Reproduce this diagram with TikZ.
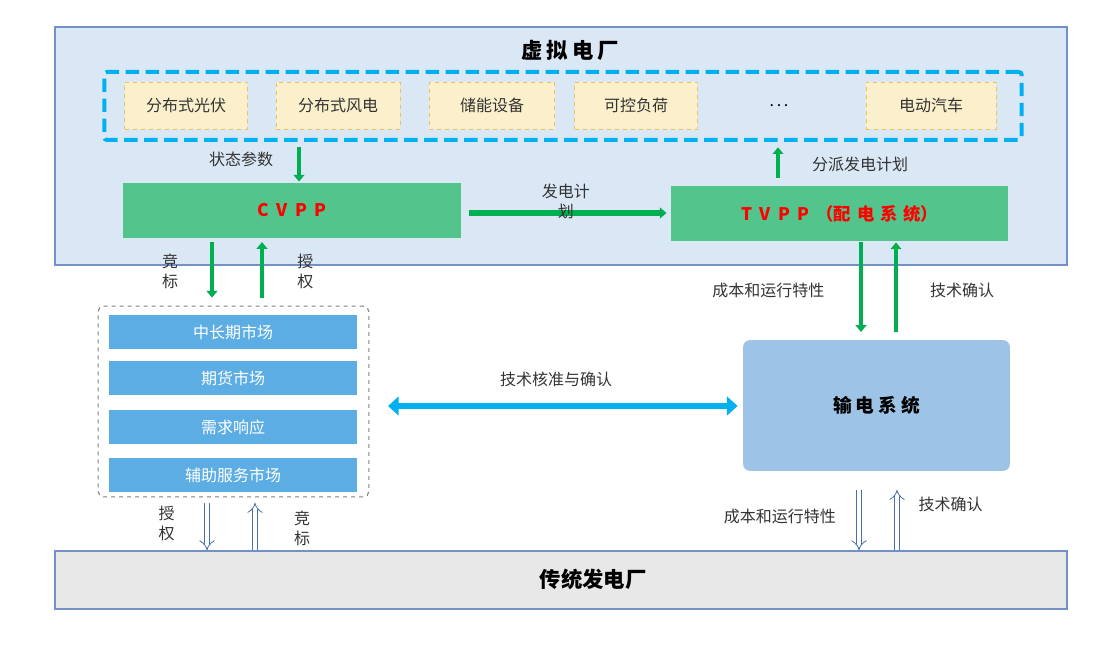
\documentclass[tikz,border=0pt]{standalone}
\usepackage{fontspec}
\setmainfont{Noto Sans CJK SC}
\usepackage{xcolor}
\usetikzlibrary{arrows.meta, positioning}

\definecolor{vppfill}{HTML}{DAE7F5}
\definecolor{frameblue}{HTML}{7391C6}
\definecolor{cyanline}{HTML}{00B0F0}
\definecolor{derfill}{HTML}{FCF0CC}
\definecolor{derline}{HTML}{F2C14E}
\definecolor{vppgreen}{HTML}{52C48C}
\definecolor{arrowgreen}{HTML}{00B050}
\definecolor{barblue}{HTML}{5DADE5}
\definecolor{transblue}{HTML}{9DC3E6}
\definecolor{tppfill}{HTML}{E8E8E8}
\definecolor{hollowline}{HTML}{4A6FA5}
\definecolor{labelgray}{HTML}{333333}

% letter spacing inside the VPP boxes
\newcommand{\lgap}{\hspace{5.5pt}}
\newcommand{\cgap}{\hspace{4.3pt}}

\tikzset{
  lbl/.style={font=\fontsize{12}{15}\selectfont, text=labelgray, inner sep=1pt, align=center},
  derbox/.style={draw=derline, dashed, fill=derfill, minimum width=92pt, minimum height=35pt,
    font=\fontsize{12}{14}\selectfont, text=labelgray},
  vppbox/.style={fill=vppgreen, minimum width=253pt, minimum height=41pt,
    font=\fontsize{13}{15}\selectfont\bfseries, text=red},
  mktbar/.style={fill=barblue, minimum width=186pt, minimum height=25.5pt,
    font=\fontsize{12}{14}\selectfont, text=white},
  garrow/.style={draw=arrowgreen, line width=3pt, -{Triangle[length=5pt,width=8pt]}},
  hollow/.style={draw=hollowline, line width=0.6pt, double=white, double distance=3.5pt, -Implies},
}

\begin{document}
\begin{tikzpicture}[x=0.75pt, y=-0.75pt]
  \useasboundingbox (0,0) rectangle (1095,645);

  % virtual power plant frame
  \node[draw=frameblue, fill=vppfill, line width=0.8pt, minimum width=759pt, minimum height=178.5pt] (vpp) at (561,146) {};
  \node[font=\fontsize{16}{18}\selectfont\bfseries] (vpptitle) at (570,50) {虚\hspace{3pt}拟\hspace{3pt}电\hspace{3pt}厂};

  % distributed resources
  \node[draw=cyanline, line width=3pt, dash pattern=on 10pt off 5pt, rounded corners=2pt,
    minimum width=688pt, minimum height=51pt] (der) at (563,106) {};
  \node[derbox] (pv) at (186,105.5) {分布式光伏};
  \node[derbox, minimum width=93pt] (wind) at (338,105.5) {分布式风电};
  \node[derbox, minimum width=94pt] (stor) at (492,105.5) {储能设备};
  \node[derbox] (load) at (636,105.5) {可控负荷};
  \node[font=\fontsize{12}{14}\selectfont] (dots) at (779,106) {.\,.\,.};
  \node[derbox, minimum width=97.5pt] (ev) at (931,105.5) {电动汽车};

  \node[vppbox] (cvpp) at (292,210.5) {C\lgap V\lgap P\lgap P};
  \node[vppbox] (tvpp) at (839.5,213.5) {T\lgap V\lgap P\lgap P\lgap （配\cgap 电\cgap 系\cgap 统）};

  % market
  \node[draw=gray, dashed, line width=0.8pt, rounded corners=4pt, minimum width=203pt, minimum height=143pt] (market) at (233.5,401.5) {};
  \node[mktbar] (mid) at (233,332) {中长期市场};
  \node[mktbar] (fut) at (233,378) {期货市场};
  \node[mktbar] (dr) at (233,427) {需求响应};
  \node[mktbar] (aux) at (233,475) {辅助服务市场};

  \node[fill=transblue, rounded corners=5pt, minimum width=200pt, minimum height=98pt,
    font=\fontsize{14}{16}\selectfont\bfseries] (trans) at (876.5,405.5) {输\hspace{3pt}电\hspace{3pt}系\hspace{3pt}统};

  \node[draw=frameblue, fill=tppfill, line width=0.8pt, minimum width=759pt, minimum height=43.5pt] (tpp) at (561,580) {};
  \node[font=\fontsize{16}{18}\selectfont\bfseries] (tpptitle) at (593,579) {传统发电厂};

  % connectors
  \draw[garrow, shorten <=4pt, shorten >=1pt] (der.south -| 299,0) -- (cvpp.north -| 299,0)
    node[lbl, midway, left=17pt, yshift=2pt] {状态参数};
  \draw[garrow, line width=4.5pt, shorten <=6pt, shorten >=3pt] (cvpp.east |- 0,213) -- (tvpp.west |- 0,213)
    node[lbl, midway, yshift=9pt] {发电计\\划};
  \draw[garrow, shorten <=6pt, shorten >=4pt] (tvpp.north -| 778,0) -- (der.south -| 778,0)
    node[lbl, midway, right=23pt] {分派发电计划};

  \draw[garrow, shorten <=3pt, shorten >=6pt] (cvpp.south -| 212,0) -- (market.north -| 212,0)
    node[lbl, midway, left=23pt] {竞\\标};
  \draw[garrow, shorten <=6pt, shorten >=3pt] (market.north -| 262,0) -- (cvpp.south -| 262,0)
    node[lbl, midway, right=24pt] {授\\权};

  \draw[garrow, shorten <=1pt, shorten >=6pt] (tvpp.south -| 861,0) -- (trans.north -| 861,0)
    node[lbl, midway, left=25pt] {成本和运行特性};
  \draw[garrow, shorten <=6pt, shorten >=1pt] (trans.north -| 896,0) -- (tvpp.south -| 896,0)
    node[lbl, midway, right=23pt] {技术确认};

  \draw[cyanline, line width=4.5pt, {Triangle[length=8pt,width=14pt]}-{Triangle[length=8pt,width=14pt]},
    shorten <=14pt, shorten >=4pt] (market.east |- 0,406) -- (trans.west |- 0,406)
    node[lbl, midway, above=11pt] {技术核准与确认};

  \draw[hollow, shorten <=4pt] (market.south -| 207,0) -- (tpp.north -| 207,0)
    node[lbl, midway, left=23pt] {授\\权};
  \draw[hollow, shorten >=4pt] (tpp.north -| 255,0) -- (market.south -| 255,0)
    node[lbl, midway, right=28pt, yshift=-3pt] {竞\\标};

  \draw[hollow, shorten <=14pt] (trans.south -| 859,0) -- (tpp.north -| 859,0)
    node[lbl, midway, left=16pt, yshift=-4pt] {成本和运行特性};
  \draw[hollow, shorten >=14pt] (tpp.north -| 897,0) -- (trans.south -| 897,0)
    node[lbl, midway, right=15pt, yshift=5pt] {技术确认};
\end{tikzpicture}
\end{document}
